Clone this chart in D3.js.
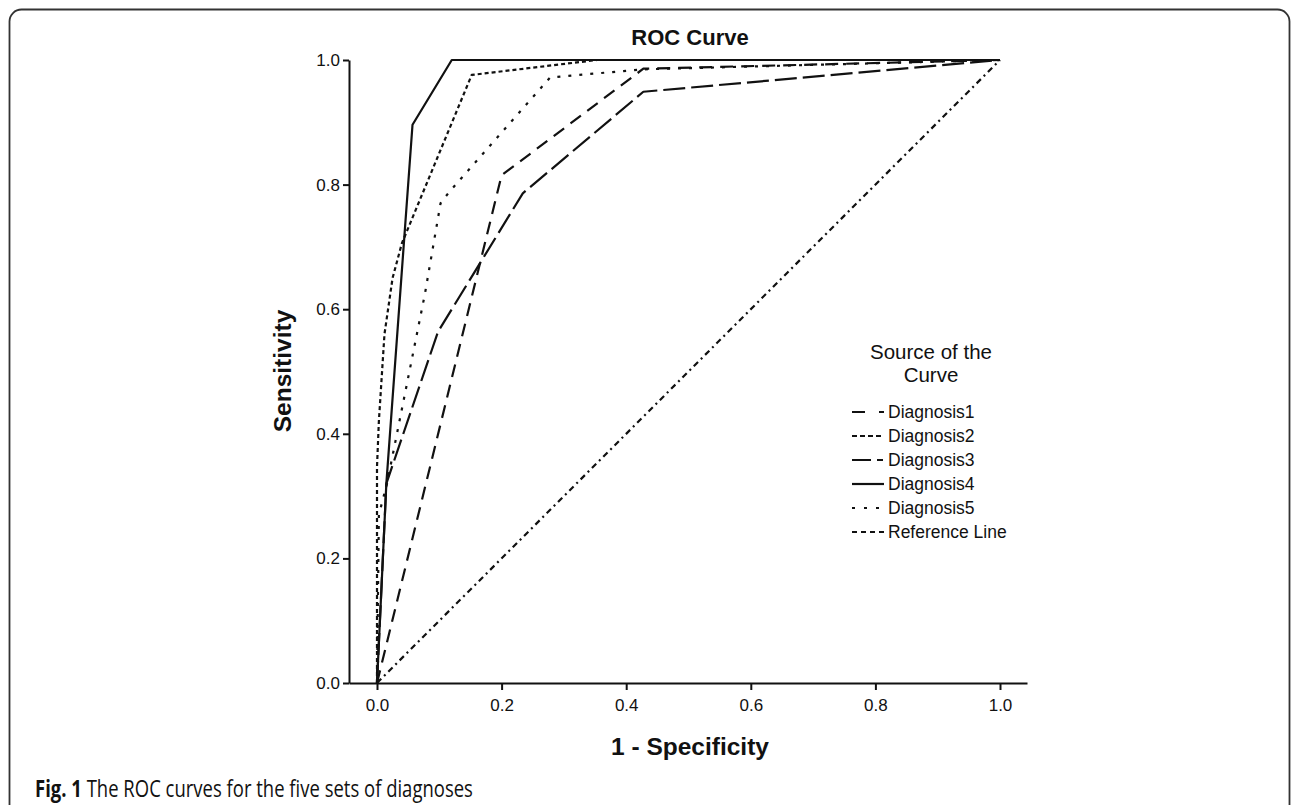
<!DOCTYPE html>
<html>
<head>
<meta charset="utf-8">
<script src="https://cdnjs.cloudflare.com/ajax/libs/d3/7.8.5/d3.min.js"></script>
<style>
  body { margin: 0; background: #fff; }
  text { fill: #111; }
</style>
</head>
<body>
<div id="chart"></div>
<script>
// ROC data: 1 - specificity (fpr) and sensitivity (tpr)
var seriesNames = ["Diagnosis1", "Diagnosis2", "Diagnosis3", "Diagnosis4", "Diagnosis5", "Reference Line"];

var diag1Fpr = [0, 0.20, 0.4275, 1];
var diag1Tpr = [0, 0.815, 0.986, 1];

var diag2Fpr = [0, 0, 0.003, 0.012, 0.025, 0.040, 0.152, 0.353, 1];
var diag2Tpr = [0, 0.347, 0.42, 0.56, 0.65, 0.706, 0.976, 1, 1];

var diag3Fpr = [0, 0.015, 0.098, 0.234, 0.4275, 1];
var diag3Tpr = [0, 0.32, 0.564, 0.786, 0.949, 1];

var diag4Fpr = [0, 0.015, 0.057, 0.12, 1];
var diag4Tpr = [0, 0.32, 0.896, 1, 1];

var diag5Fpr = [0, 0.003, 0.016, 0.077, 0.102, 0.115, 0.278, 0.4275, 1];
var diag5Tpr = [0, 0.27, 0.32, 0.625, 0.77, 0.787, 0.972, 0.985, 1];

var refFpr = [0, 1];
var refTpr = [0, 1];

var xTicks = [0, 0.2, 0.4, 0.6, 0.8, 1.0];
var yTicks = [0, 0.2, 0.4, 0.6, 0.8, 1.0];

// line styles per series (plot and legend swatch)
var dashes = ["13,8", "4,3", "22,6", null, "3,8", "6,4,2,4"];
var legendDashes = ["13,14,5", "5,3", "19,6,6", null, "3,9", "5,4"];

var svgWidth = 1292;
var svgHeight = 805;

var svg = d3.select("#chart")
  .append("svg")
  .attr("width", svgWidth)
  .attr("height", svgHeight);

svg.append("rect")
  .attr("width", svgWidth)
  .attr("height", svgHeight)
  .attr("fill", "#fff");

// figure frame, open at the bottom
svg.append("rect")
  .attr("x", 9.5)
  .attr("y", 9.5)
  .attr("width", 1280)
  .attr("height", 840)
  .attr("rx", 12)
  .attr("fill", "none")
  .attr("stroke", "#333")
  .attr("stroke-width", 1.8);

// scales
var xScale = d3.scaleLinear().domain([0, 1]).range([377, 1000]);
var yScale = d3.scaleLinear().domain([0, 1]).range([683, 60]);

// the x axis line runs a bit beyond the data range on both sides
var xAxisScale = d3.scaleLinear()
  .domain([xScale.invert(349), xScale.invert(1027)])
  .range([349, 1027]);

var bottomAxis = d3.axisBottom(xAxisScale)
  .tickValues(xTicks)
  .tickFormat(d3.format(".1f"))
  .tickSizeOuter(0)
  .tickSizeInner(7)
  .tickPadding(9);

var leftAxis = d3.axisLeft(yScale)
  .tickValues(yTicks)
  .tickFormat(d3.format(".1f"))
  .tickSizeOuter(0)
  .tickSizeInner(6)
  .tickPadding(3);

var xAxisG = svg.append("g")
  .attr("transform", "translate(0, 683)")
  .call(bottomAxis);

var yAxisG = svg.append("g")
  .attr("transform", "translate(349, 0)")
  .call(leftAxis);

xAxisG.selectAll("path, line").attr("stroke", "#111").attr("stroke-width", 2);
yAxisG.selectAll("path, line").attr("stroke", "#111").attr("stroke-width", 2);

xAxisG.selectAll("text")
  .attr("font-family", "'Liberation Sans', Arial, sans-serif")
  .attr("font-size", 17)
  .attr("fill", "#111");

yAxisG.selectAll("text")
  .attr("font-family", "'Liberation Sans', Arial, sans-serif")
  .attr("font-size", 17)
  .attr("fill", "#111");

// curves
var allSeries = [
  d3.zip(diag1Fpr, diag1Tpr),
  d3.zip(diag2Fpr, diag2Tpr),
  d3.zip(diag3Fpr, diag3Tpr),
  d3.zip(diag4Fpr, diag4Tpr),
  d3.zip(diag5Fpr, diag5Tpr),
  d3.zip(refFpr, refTpr)
];

var line = d3.line()
  .x(d => xScale(d[0]))
  .y(d => yScale(d[1]));

svg.append("g")
  .selectAll("path")
  .data(allSeries)
  .enter()
  .append("path")
  .attr("d", line)
  .attr("fill", "none")
  .attr("stroke", "#111")
  .attr("stroke-width", 2.2)
  .attr("stroke-linejoin", "round")
  .attr("stroke-dasharray", (d, i) => dashes[i]);

// titles
svg.append("text")
  .attr("x", 690)
  .attr("y", 45)
  .attr("text-anchor", "middle")
  .attr("font-family", "'Liberation Sans', Arial, sans-serif")
  .attr("font-weight", "bold")
  .attr("font-size", 22)
  .text("ROC Curve");

svg.append("text")
  .attr("transform", "translate(291, 371) rotate(-90)")
  .attr("text-anchor", "middle")
  .attr("font-family", "'Liberation Sans', Arial, sans-serif")
  .attr("font-weight", "bold")
  .attr("font-size", 24.5)
  .text("Sensitivity");

svg.append("text")
  .attr("x", 690)
  .attr("y", 755)
  .attr("text-anchor", "middle")
  .attr("font-family", "'Liberation Sans', Arial, sans-serif")
  .attr("font-weight", "bold")
  .attr("font-size", 24.5)
  .text("1 - Specificity");

// legend
var legend = svg.append("g");

legend.append("text")
  .attr("x", 931)
  .attr("y", 359)
  .attr("text-anchor", "middle")
  .attr("font-family", "'Liberation Sans', Arial, sans-serif")
  .attr("font-size", 20.5)
  .selectAll("tspan")
  .data(["Source of the", "Curve"])
  .enter()
  .append("tspan")
  .attr("x", 931)
  .attr("dy", (d, i) => i === 0 ? 0 : 23)
  .text(d => d);

var legendRow = legend.selectAll(".legend-row")
  .data(seriesNames)
  .enter()
  .append("g")
  .attr("class", "legend-row")
  .attr("transform", (d, i) => `translate(0, ${412 + i * 24})`);

legendRow.append("line")
  .attr("x1", 852)
  .attr("x2", 884)
  .attr("stroke", "#111")
  .attr("stroke-width", 2.2)
  .attr("stroke-dasharray", (d, i) => legendDashes[i]);

legendRow.append("text")
  .attr("x", 888)
  .attr("dy", "0.36em")
  .attr("font-family", "'Liberation Sans', Arial, sans-serif")
  .attr("font-size", 17.5)
  .text(d => d);

// caption, set in a narrow face: squeeze it to the measured width
var captionG = svg.append("g");

var caption = captionG.append("text")
  .attr("font-family", "'Open Sans', 'Noto Sans', sans-serif")
  .attr("font-size", 23)
  .attr("fill", "#222");

caption.append("tspan")
  .attr("font-weight", "bold")
  .text("Fig. 1");

caption.append("tspan")
  .text(" The ROC curves for the five sets of diagnoses");

var capWidth = caption.node().getComputedTextLength();
captionG.attr("transform", `translate(35, 797) scale(${438 / capWidth}, 1)`);
</script>
</body>
</html>
